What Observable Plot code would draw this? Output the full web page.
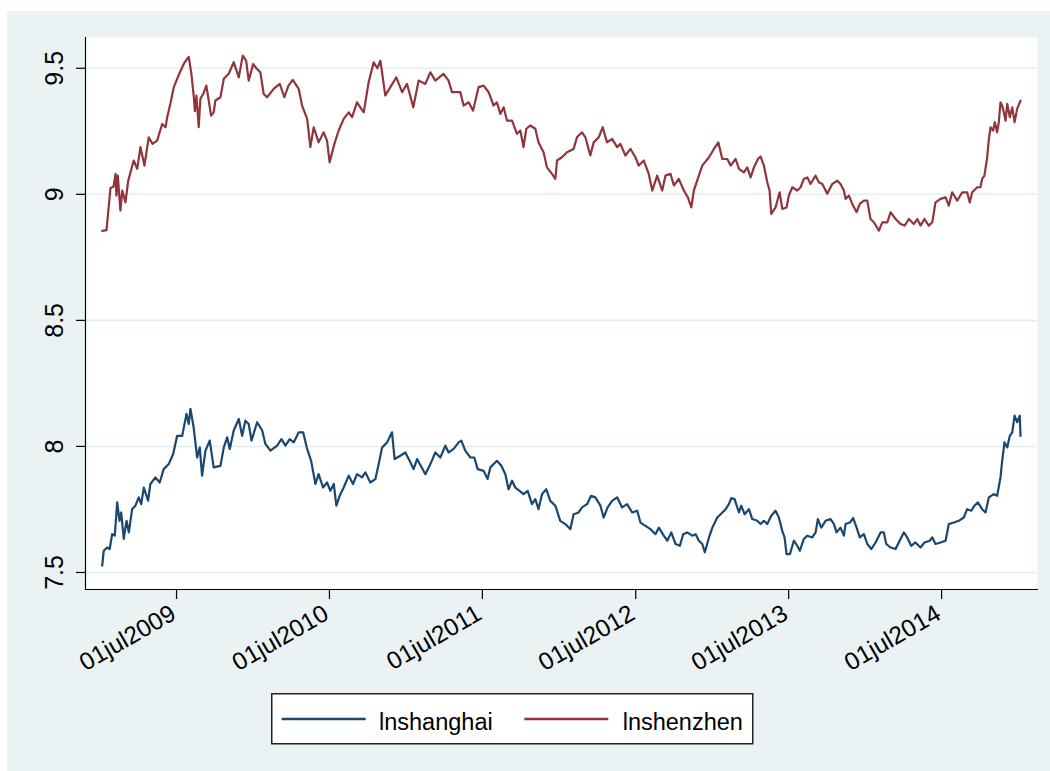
<!DOCTYPE html>
<html><head><meta charset="utf-8">
<script src="https://cdn.jsdelivr.net/npm/d3@7"></script>
<script src="https://cdn.jsdelivr.net/npm/@observablehq/plot@0.6"></script>
<style>
html,body{margin:0;padding:0;background:#fff;}
#wrap{position:relative;width:1050px;height:771px;overflow:hidden;font-family:"Liberation Sans",Arial,Helvetica,sans-serif;}
#bg{position:absolute;left:7px;top:11px;right:0;bottom:0;background:#eaf2f3;}
#chart{position:absolute;left:0;top:0;}
#legend{position:absolute;left:271px;top:693px;overflow:visible;}
</style></head><body>
<div id="wrap"><div id="bg"></div><div id="chart"></div><svg id="legend" width="520" height="56"></svg></div>
<script>
// decimal-year positions and values
const shanghaiYear = [2009.010,2009.020,2009.042,2009.059,2009.075,2009.092,2009.108,2009.123,2009.134,2009.151,
2009.169,2009.184,2009.206,2009.227,2009.249,2009.265,2009.282,2009.310,2009.325,2009.358,
2009.386,2009.412,2009.445,2009.474,2009.500,2009.533,2009.561,2009.576,2009.587,2009.608,
2009.631,2009.648,2009.663,2009.685,2009.713,2009.739,2009.783,2009.805,2009.827,2009.844,
2009.870,2009.903,2009.925,2009.946,2009.968,2009.986,2010.023,2010.056,2010.077,2010.110,
2010.154,2010.182,2010.208,2010.236,2010.262,2010.295,2010.324,2010.350,2010.376,2010.404,
2010.425,2010.454,2010.480,2010.502,2010.524,2010.541,2010.563,2010.589,2010.622,2010.650,
2010.676,2010.709,2010.731,2010.763,2010.796,2010.818,2010.840,2010.873,2010.905,2010.922,
2010.959,2010.992,2011.025,2011.046,2011.069,2011.123,2011.156,2011.188,2011.221,2011.254,
2011.275,2011.308,2011.341,2011.358,2011.384,2011.417,2011.443,2011.465,2011.504,2011.530,
2011.548,2011.591,2011.620,2011.646,2011.667,2011.690,2011.711,2011.739,2011.765,2011.792,
2011.820,2011.842,2011.863,2011.886,2011.914,2011.940,2011.973,2012.005,2012.038,2012.071,
2012.092,2012.125,2012.147,2012.180,2012.206,2012.234,2012.267,2012.288,2012.314,2012.343,
2012.376,2012.408,2012.441,2012.474,2012.507,2012.528,2012.561,2012.593,2012.626,2012.648,
2012.680,2012.703,2012.729,2012.757,2012.785,2012.807,2012.833,2012.866,2012.888,2012.909,
2012.931,2012.948,2012.975,2012.997,2013.029,2013.051,2013.084,2013.105,2013.121,2013.142,
2013.171,2013.186,2013.208,2013.236,2013.258,2013.291,2013.312,2013.334,2013.356,2013.382,
2013.410,2013.432,2013.454,2013.469,2013.482,2013.504,2013.530,2013.552,2013.569,2013.595,
2013.618,2013.650,2013.672,2013.687,2013.709,2013.737,2013.770,2013.792,2013.809,2013.835,
2013.857,2013.868,2013.896,2013.918,2013.940,2013.961,2013.988,2014.010,2014.036,2014.064,
2014.097,2014.118,2014.134,2014.162,2014.195,2014.216,2014.249,2014.271,2014.297,2014.325,
2014.358,2014.384,2014.419,2014.435,2014.456,2014.489,2014.522,2014.543,2014.576,2014.608,
2014.641,2014.663,2014.690,2014.711,2014.733,2014.761,2014.783,2014.805,2014.837,2014.859,
2014.881,2014.892,2014.907,2014.925,2014.942,2014.958,2014.973,2014.990,2015.007,2015.012];
const shanghaiValue = [7.527,7.586,7.599,7.593,7.652,7.646,7.778,7.705,7.738,7.633,
7.705,7.659,7.752,7.765,7.798,7.771,7.837,7.785,7.851,7.877,
7.857,7.910,7.930,7.970,8.042,8.042,8.129,8.089,8.149,8.075,
7.956,7.996,7.884,7.983,8.023,7.917,7.923,7.996,8.036,7.990,
8.063,8.109,8.042,8.102,8.089,8.023,8.096,8.063,8.010,7.983,
8.003,8.029,8.003,8.029,8.016,8.056,8.056,7.990,7.943,7.851,
7.890,7.837,7.857,7.824,7.851,7.765,7.804,7.837,7.884,7.851,
7.890,7.877,7.897,7.857,7.870,7.930,7.996,8.016,8.056,7.950,
7.963,7.976,7.937,7.910,7.950,7.890,7.930,7.976,7.956,8.003,
7.976,7.990,8.016,8.023,7.983,7.956,7.956,7.910,7.903,7.871,
7.917,7.943,7.923,7.890,7.830,7.864,7.837,7.824,7.811,7.824,
7.771,7.791,7.751,7.811,7.830,7.784,7.765,7.705,7.692,7.672,
7.731,7.738,7.758,7.771,7.804,7.798,7.765,7.718,7.758,7.784,
7.798,7.758,7.771,7.738,7.745,7.698,7.685,7.672,7.652,7.678,
7.646,7.626,7.659,7.613,7.606,7.652,7.659,7.646,7.652,7.626,
7.613,7.580,7.639,7.678,7.718,7.731,7.751,7.771,7.795,7.791,
7.738,7.765,7.731,7.751,7.712,7.705,7.692,7.705,7.692,7.725,
7.745,7.718,7.665,7.639,7.573,7.573,7.626,7.606,7.586,7.633,
7.646,7.639,7.659,7.712,7.678,7.705,7.712,7.692,7.659,7.678,
7.646,7.692,7.698,7.716,7.678,7.639,7.652,7.613,7.593,7.619,
7.659,7.659,7.613,7.599,7.593,7.619,7.659,7.639,7.606,7.619,
7.599,7.619,7.626,7.639,7.613,7.619,7.626,7.692,7.698,7.705,
7.718,7.751,7.745,7.765,7.778,7.751,7.738,7.798,7.811,7.804,
7.877,7.943,8.016,7.996,8.042,8.056,8.122,8.096,8.122,8.042];

const shenzhenYear = [2009.010,2009.038,2009.064,2009.084,2009.097,2009.103,2009.112,2009.129,2009.141,2009.162,
2009.180,2009.216,2009.239,2009.260,2009.286,2009.314,2009.339,2009.369,2009.402,2009.424,
2009.435,2009.456,2009.478,2009.508,2009.543,2009.565,2009.576,2009.593,2009.608,2009.616,
2009.626,2009.641,2009.652,2009.672,2009.691,2009.722,2009.739,2009.750,2009.783,2009.805,
2009.837,2009.870,2009.903,2009.929,2009.951,2009.968,2009.997,2010.018,2010.044,2010.066,
2010.088,2010.131,2010.171,2010.201,2010.227,2010.256,2010.295,2010.317,2010.350,2010.371,
2010.393,2010.425,2010.458,2010.480,2010.497,2010.528,2010.556,2010.589,2010.622,2010.644,
2010.676,2010.720,2010.752,2010.785,2010.809,2010.829,2010.861,2010.894,2010.933,2010.971,
2011.003,2011.044,2011.079,2011.123,2011.156,2011.188,2011.242,2011.275,2011.297,2011.352,
2011.373,2011.406,2011.435,2011.471,2011.504,2011.537,2011.569,2011.591,2011.613,2011.635,
2011.657,2011.690,2011.722,2011.744,2011.765,2011.783,2011.809,2011.842,2011.863,2011.896,
2011.918,2011.951,2011.973,2011.984,2012.016,2012.049,2012.092,2012.114,2012.147,2012.169,
2012.201,2012.223,2012.256,2012.282,2012.310,2012.343,2012.376,2012.397,2012.430,2012.463,
2012.495,2012.517,2012.550,2012.582,2012.605,2012.637,2012.670,2012.691,2012.724,2012.746,
2012.778,2012.811,2012.837,2012.860,2012.876,2012.905,2012.931,2012.975,2013.007,2013.036,
2013.062,2013.095,2013.116,2013.149,2013.171,2013.203,2013.225,2013.247,2013.269,2013.295,
2013.312,2013.334,2013.356,2013.371,2013.382,2013.410,2013.437,2013.454,2013.482,2013.497,
2013.520,2013.552,2013.574,2013.595,2013.618,2013.639,2013.672,2013.693,2013.716,2013.748,
2013.781,2013.814,2013.835,2013.857,2013.868,2013.890,2013.912,2013.940,2013.961,2013.988,
2014.010,2014.031,2014.053,2014.086,2014.108,2014.141,2014.162,2014.195,2014.227,2014.254,
2014.282,2014.314,2014.337,2014.358,2014.384,2014.412,2014.435,2014.456,2014.489,2014.522,
2014.543,2014.565,2014.598,2014.631,2014.663,2014.680,2014.696,2014.729,2014.750,2014.761,
2014.776,2014.794,2014.805,2014.816,2014.833,2014.844,2014.859,2014.870,2014.881,2014.892,
2014.903,2014.914,2014.925,2014.942,2014.958,2014.973,2014.990,2015.012];
const shenzhenValue = [8.855,8.858,9.025,9.030,9.081,8.995,9.074,8.935,9.015,8.968,
9.054,9.134,9.101,9.187,9.114,9.226,9.200,9.213,9.279,9.266,
9.306,9.360,9.425,9.470,9.517,9.537,9.545,9.478,9.392,9.330,
9.392,9.266,9.379,9.400,9.431,9.312,9.325,9.372,9.385,9.458,
9.478,9.524,9.464,9.550,9.530,9.451,9.517,9.500,9.484,9.398,
9.385,9.418,9.438,9.385,9.430,9.454,9.418,9.352,9.299,9.187,
9.266,9.206,9.246,9.213,9.127,9.200,9.253,9.299,9.325,9.306,
9.365,9.325,9.444,9.524,9.500,9.530,9.392,9.425,9.464,9.405,
9.438,9.345,9.451,9.438,9.484,9.451,9.478,9.451,9.405,9.405,
9.352,9.365,9.332,9.425,9.431,9.405,9.352,9.365,9.319,9.345,
9.292,9.292,9.240,9.253,9.187,9.260,9.273,9.260,9.206,9.167,
9.107,9.081,9.061,9.134,9.147,9.167,9.180,9.226,9.246,9.226,
9.154,9.206,9.226,9.266,9.206,9.220,9.187,9.200,9.154,9.180,
9.147,9.114,9.134,9.081,9.015,9.074,9.015,9.074,9.081,9.035,
9.061,9.015,8.988,8.948,9.015,9.067,9.114,9.147,9.180,9.206,
9.140,9.140,9.114,9.140,9.101,9.087,9.107,9.067,9.107,9.140,
9.150,9.114,9.048,9.015,8.922,8.948,9.008,8.942,8.948,8.995,
9.028,9.015,9.028,9.061,9.067,9.041,9.074,9.048,9.041,9.002,
9.041,9.054,9.041,9.015,8.982,8.995,8.962,8.929,8.962,8.975,
8.975,8.902,8.889,8.856,8.889,8.889,8.929,8.902,8.882,8.876,
8.902,8.882,8.902,8.876,8.902,8.876,8.889,8.968,8.982,8.988,
8.955,9.008,8.975,9.008,9.008,8.968,9.008,9.028,9.028,9.061,
9.074,9.147,9.220,9.266,9.253,9.286,9.246,9.286,9.365,9.352,
9.325,9.292,9.359,9.306,9.345,9.286,9.339,9.372];

const seriesNames = ["lnshanghai", "lnshenzhen"];
const seriesColors = ["#1a476f", "#90353b"];
const yTicks = [7.5, 8, 8.5, 9, 9.5];
const yLabels = ["7.5", "8", "8.5", "9", "9.5"];
const xTickYears = [2009, 2010, 2011, 2012, 2013, 2014];
const xLabels = ["01jul2009", "01jul2010", "01jul2011", "01jul2012", "01jul2013", "01jul2014"];

const toDate = yr => { const y = Math.floor(yr), a = Date.UTC(y, 0, 1), b = Date.UTC(y + 1, 0, 1); return new Date(a + (yr - y) * (b - a)); };
const shanghai = shanghaiYear.map((t, i) => ({date: toDate(t), v: shanghaiValue[i]}));
const shenzhen = shenzhenYear.map((t, i) => ({date: toDate(t), v: shenzhenValue[i]}));
const xTicks = xTickYears.map(y => new Date(Date.UTC(y, 6, 1)));

const font = "Liberation Sans, Arial, Helvetica, sans-serif";
const plot = Plot.plot({
  width: 1050, height: 680,
  marginLeft: 85, marginRight: 13, marginTop: 37, marginBottom: 91,
  style: {background: "transparent", overflow: "visible", fontFamily: font, color: "#000"},
  x: {type: "utc", domain: [toDate(2008.901), toDate(2015.123)], label: null},
  y: {domain: [7.4325, 9.622], label: null},
  marks: [
    Plot.frame({fill: "white", stroke: "none"}),
    Plot.gridY(yTicks, {stroke: "#e4edf0", strokeOpacity: 1, strokeWidth: 1.6}),
    Plot.line(shanghai, {x: "date", y: "v", stroke: seriesColors[0], strokeWidth: 2.2}),
    Plot.line(shenzhen, {x: "date", y: "v", stroke: seriesColors[1], strokeWidth: 2.2}),
    Plot.frame({anchor: "left", stroke: "#000", strokeWidth: 1.2}),
    Plot.frame({anchor: "bottom", stroke: "#000", strokeWidth: 1.2}),
    Plot.axisY(yTicks, {tickSize: 9, tickFormat: () => "", stroke: "#000", strokeWidth: 1.2}),
    Plot.axisX(xTicks, {tickSize: 10, tickFormat: () => "", stroke: "#000", strokeWidth: 1.2}),
    Plot.text(yTicks, {y: d => d, text: (d, i) => yLabels[i], frameAnchor: "left", rotate: -90,
      textAnchor: "middle", lineAnchor: "middle", dx: -31, fontSize: 25, fill: "#000"}),
    Plot.text(xTicks, {x: d => d, text: (d, i) => xLabels[i], frameAnchor: "bottom", rotate: -30,
      textAnchor: "end", lineAnchor: "middle", dx: -3, dy: 22, fontSize: 24.5, fill: "#000"})
  ]
});
document.getElementById("chart").appendChild(plot);

// legend
const lg = d3.select("#legend");
lg.append("rect").attr("x", 0.75).attr("y", 0.75).attr("width", 481).attr("height", 50)
  .attr("fill", "white").attr("stroke", "#222").attr("stroke-width", 1.5);
const swatchX = [10.7, 253.3];
const textX = [108, 351.7];
seriesNames.forEach((name, i) => {
  lg.append("line").attr("x1", swatchX[i]).attr("x2", swatchX[i] + 84).attr("y1", 26).attr("y2", 26)
    .attr("stroke", seriesColors[i]).attr("stroke-width", 2.5);
  lg.append("text").attr("x", textX[i]).attr("y", 36.5).attr("font-family", font)
    .attr("font-size", 23.5).attr("fill", "#000").text(name);
});
</script>
</body></html>
